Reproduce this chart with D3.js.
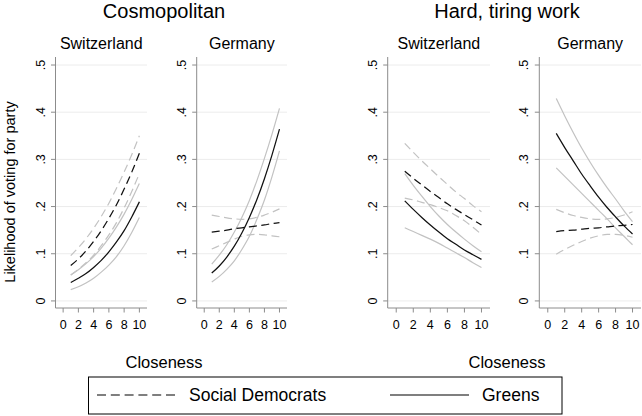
<!DOCTYPE html>
<html>
<head>
<meta charset="utf-8">
<script src="https://cdn.jsdelivr.net/npm/d3@7"></script>
<style>
  body { margin: 0; background: #fff; }
  text { font-family: "Liberation Sans", Arial, sans-serif; fill: #000; }
</style>
</head>
<body>
<script>
// closeness values where the predictions are drawn
var closeness = [1, 2, 3, 4, 5, 6, 7, 8, 9, 10];
var xTicks = [0, 2, 4, 6, 8, 10];
var yTicks = [0, 0.1, 0.2, 0.3, 0.4, 0.5];
var yTickLabels = ["0", ".1", ".2", ".3", ".4", ".5"];
var groupTitles = ["Cosmopolitan", "Hard, tiring work"];
var countries = ["Switzerland", "Germany"];
var parties = ["Social Democrats", "Greens"];

// Cosmopolitan - Switzerland
var cosChSd   = [.075, .089, .106, .126, .149, .175, .204, .237, .273, .313];
var cosChSdHi = [.096, .113, .132, .154, .179, .207, .239, .273, .310, .350];
var cosChSdLo = [.055, .067, .081, .097, .117, .140, .166, .197, .232, .270];
var cosChGr   = [.039, .048, .058, .071, .086, .104, .125, .149, .178, .210];
var cosChGrHi = [.055, .066, .079, .094, .112, .133, .157, .184, .215, .249];
var cosChGrLo = [.024, .030, .038, .048, .061, .076, .094, .117, .145, .177];

// Cosmopolitan - Germany
var cosDeSd   = [.146, .148, .150, .153, .155, .157, .159, .161, .164, .166];
var cosDeSdHi = [.182, .179, .176, .174, .173, .174, .177, .182, .188, .195];
var cosDeSdLo = [.110, .117, .124, .131, .137, .140, .141, .140, .138, .136];
var cosDeGr   = [.059, .074, .093, .116, .144, .177, .215, .259, .309, .364];
var cosDeGrHi = [.078, .097, .119, .146, .177, .213, .255, .302, .353, .408];
var cosDeGrLo = [.040, .052, .067, .085, .109, .137, .173, .214, .263, .318];

// Hard, tiring work - Switzerland
var hardChSd   = [.275, .260, .246, .232, .219, .206, .194, .183, .172, .161];
var hardChSdHi = [.334, .315, .297, .280, .263, .247, .231, .217, .202, .189];
var hardChSdLo = [.218, .214, .209, .204, .198, .191, .181, .170, .156, .141];
var hardChGr   = [.212, .194, .177, .161, .146, .132, .120, .108, .098, .088];
var hardChGrHi = [.270, .245, .222, .200, .180, .162, .146, .131, .117, .104];
var hardChGrLo = [.155, .147, .139, .131, .122, .112, .102, .092, .081, .071];

// Hard, tiring work - Germany
var hardDeSd   = [.147, .149, .150, .152, .154, .155, .157, .159, .160, .162];
var hardDeSdHi = [.194, .187, .181, .177, .174, .173, .174, .177, .182, .189];
var hardDeSdLo = [.099, .109, .118, .126, .133, .138, .141, .141, .139, .135];
var hardDeGr   = [.355, .325, .297, .269, .244, .220, .198, .178, .159, .142];
var hardDeGrHi = [.429, .392, .357, .324, .294, .266, .240, .216, .191, .168];
var hardDeGrLo = [.282, .264, .246, .228, .210, .192, .174, .155, .137, .119];

var panels = [
  { group: 0, country: 0, sd: [cosChSd, cosChSdHi, cosChSdLo], gr: [cosChGr, cosChGrHi, cosChGrLo] },
  { group: 0, country: 1, sd: [cosDeSd, cosDeSdHi, cosDeSdLo], gr: [cosDeGr, cosDeGrHi, cosDeGrLo] },
  { group: 1, country: 0, sd: [hardChSd, hardChSdHi, hardChSdLo], gr: [hardChGr, hardChGrHi, hardChGrLo] },
  { group: 1, country: 1, sd: [hardDeSd, hardDeSdHi, hardDeSdLo], gr: [hardDeGr, hardDeGrHi, hardDeGrLo] }
];

var width = 642,
    height = 416;

var svg = d3.select("body")
            .append("svg")
            .attr("width", width)
            .attr("height", height);

// plot boxes (left edge = y axis, right edge)
var boxes = [[55.5, 147], [196.7, 287], [387.7, 490], [539.3, 641]];
var plotTop = 57, plotBottom = 308;
var groupCenters = [164, 507];

var y = d3.scaleLinear().domain([-0.015, 0.517]).range([plotBottom, plotTop]);

var dash = "8,4.5";
var grey = "#c2c2c2";
var axisCol = "#8c8c8c";

panels.forEach(function(p, i) {
    var b = boxes[i];
    var x = d3.scaleLinear().domain([-1, 11]).range([b[0], b[1]]);
    var g = svg.append("g");

    // gridlines
    g.selectAll(".grid")
      .data(yTicks)
      .enter().append("line")
        .attr("x1", b[0]).attr("x2", b[1])
        .attr("y1", function(d) { return y(d); })
        .attr("y2", function(d) { return y(d); })
        .attr("stroke", "#ececec")
        .attr("stroke-width", 1);

    // axes
    g.append("line")
        .attr("x1", b[0]).attr("x2", b[0])
        .attr("y1", plotTop).attr("y2", plotBottom)
        .attr("stroke", axisCol);
    g.append("line")
        .attr("x1", b[0]).attr("x2", b[1])
        .attr("y1", plotBottom).attr("y2", plotBottom)
        .attr("stroke", axisCol);

    // y ticks + rotated labels
    yTicks.forEach(function(t, k) {
        g.append("line")
            .attr("x1", b[0] - 4.5).attr("x2", b[0])
            .attr("y1", y(t)).attr("y2", y(t))
            .attr("stroke", axisCol);
        g.append("text")
            .attr("transform", "translate(" + (b[0] - 11) + "," + y(t) + ") rotate(-90)")
            .attr("text-anchor", "middle")
            .attr("font-size", "12.5px")
            .text(yTickLabels[k]);
    });

    // x ticks
    xTicks.forEach(function(t) {
        g.append("line")
            .attr("x1", x(t)).attr("x2", x(t))
            .attr("y1", plotBottom).attr("y2", plotBottom + 4.5)
            .attr("stroke", axisCol);
        g.append("text")
            .attr("x", x(t))
            .attr("y", plotBottom + 21)
            .attr("text-anchor", "middle")
            .attr("font-size", "12.5px")
            .text(t);
    });

    var line = d3.line()
        .x(function(d, k) { return x(closeness[k]); })
        .y(function(d) { return y(d); })
        .curve(d3.curveMonotoneX);

    // confidence bounds
    [p.sd[1], p.sd[2]].forEach(function(s) {
        g.append("path").attr("d", line(s))
            .attr("fill", "none").attr("stroke", grey)
            .attr("stroke-width", 1.2).attr("stroke-dasharray", dash);
    });
    [p.gr[1], p.gr[2]].forEach(function(s) {
        g.append("path").attr("d", line(s))
            .attr("fill", "none").attr("stroke", grey)
            .attr("stroke-width", 1.2);
    });

    // predictions
    g.append("path").attr("d", line(p.sd[0]))
        .attr("fill", "none").attr("stroke", "#111")
        .attr("stroke-width", 1.25).attr("stroke-dasharray", dash);
    g.append("path").attr("d", line(p.gr[0]))
        .attr("fill", "none").attr("stroke", "#111")
        .attr("stroke-width", 1.25);

    // country subtitle
    svg.append("text")
        .attr("x", (b[0] + b[1]) / 2)
        .attr("y", 49)
        .attr("text-anchor", "middle")
        .attr("font-size", "16px")
        .text(countries[p.country]);
});

// group titles and x titles
groupTitles.forEach(function(t, k) {
    svg.append("text")
        .attr("x", groupCenters[k]).attr("y", 18)
        .attr("text-anchor", "middle")
        .attr("font-size", "20px")
        .text(t);
    svg.append("text")
        .attr("x", groupCenters[k]).attr("y", 368)
        .attr("text-anchor", "middle")
        .attr("font-size", "16.5px")
        .text("Closeness");
});

// y title
svg.append("text")
    .attr("transform", "translate(15," + 192 + ") rotate(-90)")
    .attr("text-anchor", "middle")
    .attr("font-size", "14.5px")
    .text("Likelihood of voting for party");

// legend
var lg = svg.append("g");
lg.append("rect")
    .attr("x", 88.5).attr("y", 377)
    .attr("width", 473.5).attr("height", 37)
    .attr("fill", "none").attr("stroke", "#000");
lg.append("line")
    .attr("x1", 97).attr("x2", 175).attr("y1", 395).attr("y2", 395)
    .attr("stroke", "#000").attr("stroke-width", 1.2)
    .attr("stroke-dasharray", "9,4.8");
lg.append("text")
    .attr("x", 189).attr("y", 401)
    .attr("font-size", "17.5px")
    .text(parties[0]);
lg.append("line")
    .attr("x1", 390).attr("x2", 469).attr("y1", 395).attr("y2", 395)
    .attr("stroke", "#000").attr("stroke-width", 1.2);
lg.append("text")
    .attr("x", 482).attr("y", 401)
    .attr("font-size", "17.5px")
    .text(parties[1]);
</script>
</body>
</html>
